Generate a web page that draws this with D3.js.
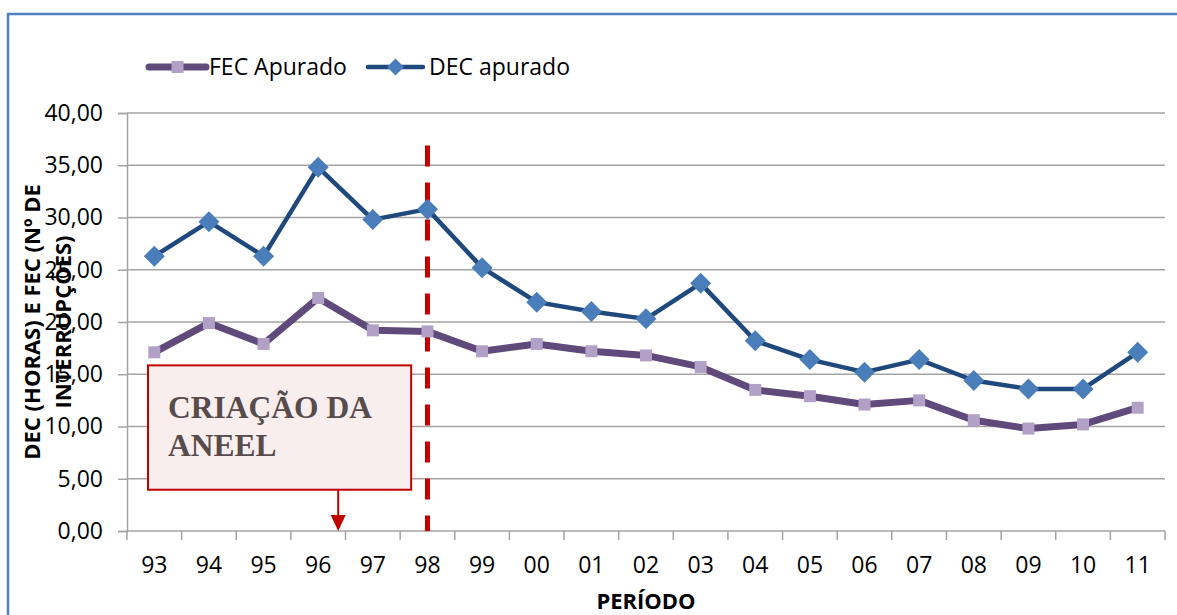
<!DOCTYPE html>
<html>
<head>
<meta charset="utf-8">
<script src="https://cdn.jsdelivr.net/npm/d3@7"></script>
<style>
  html, body { margin: 0; padding: 0; background: #ffffff; }
  svg { display: block; }
</style>
</head>
<body>
<svg id="chart" width="1177" height="615"></svg>
<script>
// ---- data ----
const categories = ["93","94","95","96","97","98","99","00","01","02","03","04","05","06","07","08","09","10","11"];
const fecValues = [17.1, 19.9, 17.9, 22.3, 19.2, 19.1, 17.2, 17.9, 17.2, 16.8, 15.7, 13.5, 12.9, 12.1, 12.5, 10.6, 9.8, 10.2, 11.8];
const decValues = [26.3, 29.6, 26.3, 34.8, 29.8, 30.8, 25.2, 21.9, 21.0, 20.3, 23.7, 18.2, 16.4, 15.2, 16.4, 14.4, 13.6, 13.6, 17.1];
const yTicks = [0, 5, 10, 15, 20, 25, 30, 35, 40];
const seriesNames = ["FEC Apurado", "DEC apurado"];
const yTitleLines = ["DEC (HORAS) E FEC (Nº DE", "INTERRUPÇÕES)"];
const xTitle = "PERÍODO";
const markerCategory = "98";
const annotationLines = ["CRIAÇÃO DA", "ANEEL"];

(function () {
// ---- setup ----
const svg = d3.select("#chart");
const pLeft = 127, pRight = 1165, pTop = 113, pBottom = 531;

const x = d3.scaleBand().domain(categories).range([pLeft, pRight]).padding(0);
const y = d3.scaleLinear().domain([0, 40]).range([pBottom, pTop]);
const cx = c => x(c) + x.bandwidth() / 2;

const locale = d3.formatLocale({decimal: ",", thousands: ".", grouping: [3], currency: ["", ""]});
const fmt = locale.format(".2f");

const FONT = "'Open Sans', 'DejaVu Sans', sans-serif";
const GRID = "#a3a3a3";

// outer frame
svg.append("rect")
  .attr("x", 8).attr("y", 14).attr("width", 1300).attr("height", 700)
  .attr("fill", "none").attr("stroke", "#4f81bd").attr("stroke-width", 2.5);

// gridlines
svg.append("g").selectAll("line").data(yTicks).join("line")
  .attr("x1", pLeft).attr("x2", pRight)
  .attr("y1", d => y(d)).attr("y2", d => y(d))
  .attr("stroke", GRID).attr("stroke-width", 1.5);

// y axis
const yAxis = svg.append("g").attr("transform", `translate(${pLeft},0)`)
  .call(d3.axisLeft(y).tickValues(yTicks).tickSize(9).tickPadding(15).tickFormat(fmt));
yAxis.select(".domain").attr("stroke", GRID).attr("stroke-width", 1.5);
yAxis.selectAll(".tick line").attr("stroke", GRID).attr("stroke-width", 1.5);
yAxis.selectAll("text").attr("font-family", FONT).attr("font-size", 23).attr("fill", "#000");

// x axis (labels)
const xAxis = svg.append("g").attr("transform", `translate(0,${pBottom})`)
  .call(d3.axisBottom(x).tickSize(0).tickPadding(26));
xAxis.select(".domain").remove();
xAxis.selectAll("text").attr("font-family", FONT).attr("font-size", 23).attr("fill", "#000");

// x boundary ticks
const bounds = categories.map(c => x(c)).concat([pRight]);
svg.append("g").selectAll("line").data(bounds).join("line")
  .attr("x1", d => d).attr("x2", d => d)
  .attr("y1", pBottom).attr("y2", pBottom + 9)
  .attr("stroke", GRID).attr("stroke-width", 1.5);

// axis titles
svg.append("text")
  .attr("x", (pLeft + pRight) / 2).attr("y", 609)
  .attr("text-anchor", "middle")
  .attr("font-family", FONT).attr("font-size", 22).attr("font-weight", "bold")
  .attr("fill", "#000").text(xTitle);

const yMid = (pTop + pBottom) / 2;
yTitleLines.forEach((t, i) => {
  svg.append("text")
    .attr("transform", `translate(${40 + i * 31},${yMid}) rotate(-90)`)
    .attr("text-anchor", "middle")
    .attr("font-family", FONT).attr("font-size", 22).attr("font-weight", "bold")
    .attr("fill", "#000").text(t);
});

// annotation box
const boxL = x("93") + 21, boxR = x("98") + 11;
const boxT = y(15.85), boxB = y(3.95);
svg.append("rect")
  .attr("x", boxL).attr("y", boxT)
  .attr("width", boxR - boxL).attr("height", boxB - boxT)
  .attr("fill", "#f9eeee").attr("stroke", "#c00000").attr("stroke-width", 2);
annotationLines.forEach((t, i) => {
  svg.append("text")
    .attr("x", boxL + 20).attr("y", boxT + 53 + i * 38)
    .attr("font-family", "'Liberation Serif', 'Times New Roman', serif")
    .attr("font-size", 31.5).attr("font-weight", "bold")
    .attr("fill", "#574b4b").text(t);
});
// arrow
const arrowX = cx("96") + 20;
svg.append("line")
  .attr("x1", arrowX).attr("x2", arrowX)
  .attr("y1", boxB).attr("y2", pBottom - 14)
  .attr("stroke", "#c00000").attr("stroke-width", 2);
svg.append("path")
  .attr("d", `M${arrowX - 7.5},${pBottom - 16} L${arrowX + 7.5},${pBottom - 16} L${arrowX},${pBottom} Z`)
  .attr("fill", "#c00000");

// vertical dashed marker
svg.append("line")
  .attr("x1", cx(markerCategory)).attr("x2", cx(markerCategory))
  .attr("y1", y(36.9)).attr("y2", pBottom)
  .attr("stroke", "#c00000").attr("stroke-width", 5)
  .attr("stroke-dasharray", "21,16");

// lines
const line = d3.line().x((d, i) => cx(categories[i])).y(d => y(d));

svg.append("path").datum(fecValues)
  .attr("d", line).attr("fill", "none")
  .attr("stroke", "#604a7b").attr("stroke-width", 7).attr("stroke-linejoin", "round");
svg.append("g").selectAll("rect").data(fecValues).join("rect")
  .attr("x", (d, i) => cx(categories[i]) - 6).attr("y", d => y(d) - 6)
  .attr("width", 12).attr("height", 12)
  .attr("fill", "#b2a1c7");

svg.append("path").datum(decValues)
  .attr("d", line).attr("fill", "none")
  .attr("stroke", "#1f497d").attr("stroke-width", 4.5).attr("stroke-linejoin", "round");
svg.append("g").selectAll("path").data(decValues).join("path")
  .attr("d", (d, i) => {
    const px = cx(categories[i]), py = y(d), r = 10.5;
    return `M${px},${py - r} L${px + r},${py} L${px},${py + r} L${px - r},${py} Z`;
  })
  .attr("fill", "#4a7ebb");

// legend
const legY = 67;
const leg = svg.append("g");
leg.append("line").attr("x1", 149).attr("x2", 206).attr("y1", legY).attr("y2", legY)
  .attr("stroke", "#604a7b").attr("stroke-width", 7).attr("stroke-linecap", "round");
leg.append("rect").attr("x", 177.5 - 6).attr("y", legY - 6).attr("width", 12).attr("height", 12)
  .attr("fill", "#b2a1c7");
leg.append("text").attr("x", 209).attr("y", legY + 8)
  .attr("font-family", FONT).attr("font-size", 23).attr("fill", "#000").text(seriesNames[0]);
leg.append("line").attr("x1", 368).attr("x2", 423).attr("y1", legY).attr("y2", legY)
  .attr("stroke", "#1f497d").attr("stroke-width", 4.5).attr("stroke-linecap", "round");
leg.append("path")
  .attr("d", `M395.5,${legY - 8.5} L404,${legY} L395.5,${legY + 8.5} L387,${legY} Z`)
  .attr("fill", "#4a7ebb");
leg.append("text").attr("x", 429).attr("y", legY + 8)
  .attr("font-family", FONT).attr("font-size", 23).attr("fill", "#000").text(seriesNames[1]);
})();
</script>
</body>
</html>
